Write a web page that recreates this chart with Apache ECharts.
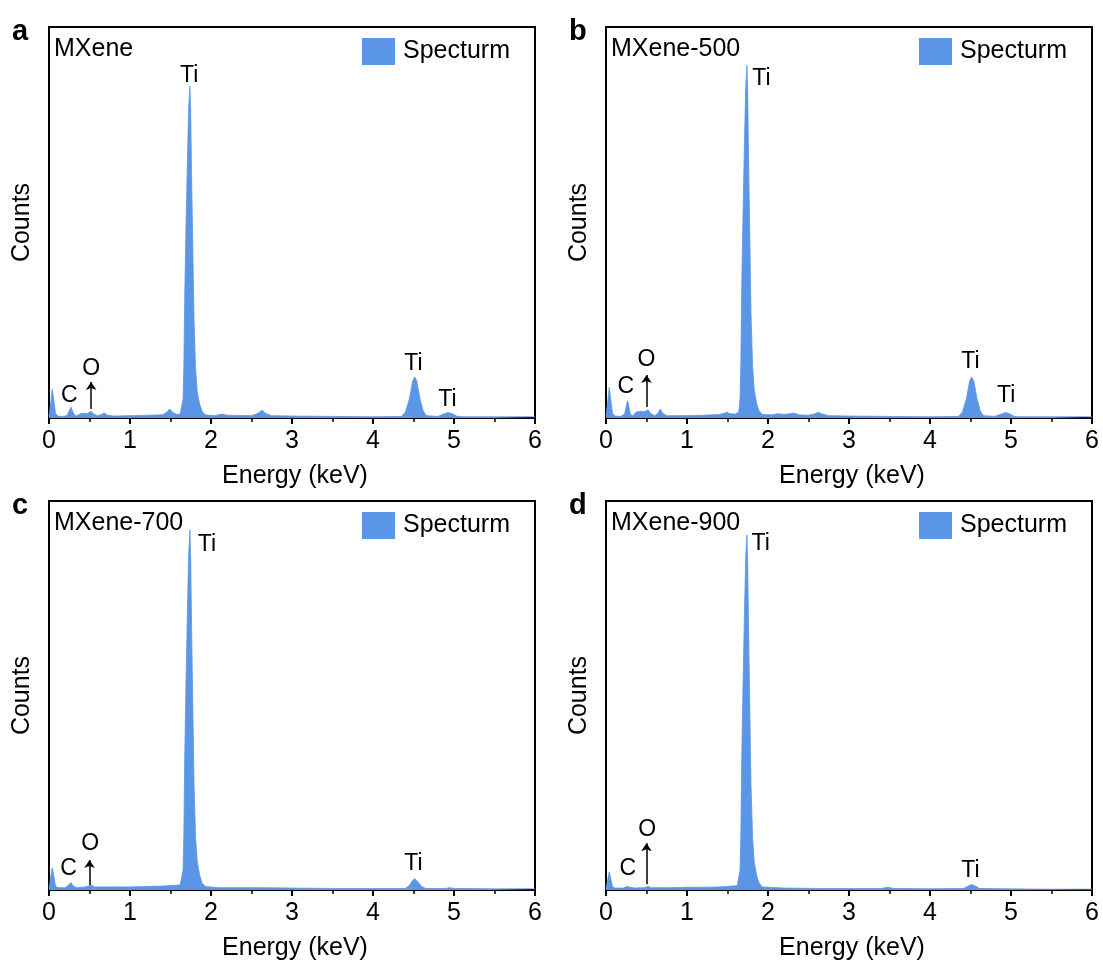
<!DOCTYPE html>
<html>
<head>
<meta charset="utf-8">
<script src="https://cdn.jsdelivr.net/npm/echarts@6/dist/echarts.min.js"></script>
<style>
  html, body { margin: 0; padding: 0; background: #fff; }
  #chart { width: 1103px; height: 965px; }
</style>
</head>
<body>
<div id="chart"></div>
<script>
// ---------------- DATA ----------------
const panelLetters = ['a', 'b', 'c', 'd'];
const sampleNames = ['MXene', 'MXene-500', 'MXene-700', 'MXene-900'];
const seriesName = 'Specturm';
const xLabel = 'Energy (keV)';
const yLabel = 'Counts';

// [energy (keV), counts (% of axis)]
const spectrumMXene = [
  [0,0.5],[0.02,3.5],[0.04,7.4],[0.06,4.5],[0.08,1.2],[0.11,0.5],[0.17,0.4],[0.22,0.6],[0.25,1.8],[0.27,2.8],
  [0.29,1.8],[0.32,0.6],[0.35,0.6],[0.38,1.0],[0.43,1.2],[0.47,1.1],[0.52,1.7],[0.55,1.0],[0.6,0.6],[0.65,0.9],
  [0.68,1.3],[0.72,0.7],[0.8,0.5],[1.0,0.6],[1.2,0.7],[1.4,0.8],[1.45,1.4],[1.49,2.3],[1.53,1.4],[1.58,0.9],
  [1.62,1.0],[1.64,1.5],[1.655,4.8],[1.665,13.5],[1.675,30.5],[1.69,47.5],[1.71,67.0],[1.725,79.5],[1.74,84.8],
  [1.75,77.0],[1.76,62.5],[1.775,44.0],[1.79,25.5],[1.81,12.5],[1.83,6.8],[1.86,3.5],[1.89,1.7],[1.93,0.8],
  [2.05,0.6],[2.13,1.0],[2.2,0.7],[2.5,0.6],[2.58,1.2],[2.63,2.0],[2.68,1.1],[2.75,0.6],[3.0,0.5],[3.5,0.4],
  [4.0,0.3],[4.35,0.4],[4.4,1.5],[4.45,5],[4.49,9.5],[4.515,10.5],[4.54,9.5],[4.58,5],[4.62,1.8],[4.66,0.6],
  [4.8,0.4],[4.87,1.0],[4.93,1.4],[4.98,1.1],[5.03,0.5],[5.1,0.3],[5.5,0.3],[6,0.3]
];
const spectrumMXene500 = [
  [0,0.5],[0.02,4],[0.04,7.8],[0.06,4.5],[0.08,1.2],[0.11,0.5],[0.18,0.4],[0.23,1.0],[0.25,3],[0.265,4.4],
  [0.28,3.2],[0.3,1.0],[0.33,0.5],[0.37,1.5],[0.42,1.7],[0.47,1.6],[0.52,2.1],[0.55,1.2],[0.6,0.6],[0.64,1.2],
  [0.67,2.3],[0.7,1.2],[0.75,0.6],[0.9,0.6],[1.2,0.7],[1.4,0.9],[1.46,1.2],[1.49,1.5],[1.53,1.1],[1.6,1.0],
  [1.64,1.6],[1.655,5.0],[1.665,14.2],[1.675,32.5],[1.69,50.5],[1.71,71.2],[1.725,84.5],[1.74,90.2],
  [1.75,82.0],[1.76,66.5],[1.775,46.8],[1.79,27.0],[1.81,13.2],[1.83,7.2],[1.86,3.7],[1.89,1.8],[1.93,0.9],
  [2.05,0.8],[2.12,1.1],[2.2,0.9],[2.27,1.1],[2.32,1.3],[2.38,0.8],[2.5,0.7],[2.57,1.0],[2.62,1.5],[2.67,1.0],
  [2.75,0.6],[3.0,0.5],[3.5,0.4],[4.0,0.3],[4.35,0.4],[4.4,1.5],[4.45,5],[4.49,9.5],[4.515,10.5],[4.54,9.5],
  [4.58,5],[4.62,1.8],[4.66,0.6],[4.8,0.4],[4.88,1.0],[4.94,1.4],[4.99,1.0],[5.04,0.4],[5.1,0.3],[5.5,0.3],[6,0.3]
];
const spectrumMXene700 = [
  [0,0.5],[0.02,3],[0.04,5.7],[0.06,3.5],[0.08,1.0],[0.11,0.6],[0.2,0.6],[0.24,1.2],[0.27,1.9],[0.3,1.0],
  [0.34,0.6],[0.45,0.8],[0.52,1.3],[0.56,0.8],[0.8,0.8],[1.0,0.8],[1.2,0.9],[1.4,1.0],[1.55,1.2],[1.62,1.3],
  [1.64,1.8],[1.655,5.2],[1.665,14.6],[1.675,33.3],[1.69,51.8],[1.71,73.0],[1.725,86.6],[1.74,92.5],
  [1.75,84.0],[1.76,68.2],[1.775,48.0],[1.79,27.6],[1.81,13.5],[1.83,7.4],[1.86,3.8],[1.89,1.8],[1.93,0.9],
  [2.1,0.6],[2.6,0.6],[3.0,0.5],[3.5,0.4],[4.0,0.4],[4.4,0.4],[4.45,1.2],[4.49,2.5],[4.515,2.9],[4.55,2.2],
  [4.6,0.9],[4.65,0.4],[4.9,0.4],[4.95,0.6],[5.0,0.4],[5.5,0.3],[6,0.3]
];
const spectrumMXene900 = [
  [0,0.4],[0.02,2.5],[0.04,4.6],[0.06,2.8],[0.08,0.9],[0.11,0.5],[0.22,0.5],[0.25,0.9],[0.27,1.3],[0.3,0.7],
  [0.35,0.5],[0.47,0.6],[0.52,0.9],[0.56,0.6],[0.8,0.6],[1.0,0.7],[1.2,0.7],[1.4,0.8],[1.55,1.0],[1.62,1.1],
  [1.64,1.5],[1.655,5.1],[1.665,14.4],[1.675,32.8],[1.69,51.1],[1.71,72.0],[1.725,85.4],[1.74,91.2],
  [1.75,82.9],[1.76,67.3],[1.775,47.3],[1.79,27.2],[1.81,13.3],[1.83,7.3],[1.86,3.7],[1.89,1.8],[1.93,0.8],
  [2.2,0.5],[2.6,0.4],[3.0,0.4],[3.4,0.4],[3.48,0.7],[3.55,0.4],[4.0,0.3],[4.42,0.4],[4.47,1.0],[4.515,1.4],
  [4.56,1.0],[4.61,0.4],[4.95,0.3],[5.5,0.2],[6,0.2]
];

// peak labels: [text, energy, counts]
const peakLabelsMXene    = [['Ti',1.73,87.6],['C',0.25,5.6],['O',0.52,12.6],['Ti',4.5,14.0],['Ti',4.92,4.6]];
const peakLabelsMXene500 = [['Ti',1.92,86.8],['C',0.245,8.0],['O',0.50,14.8],['Ti',4.5,14.3],['Ti',4.94,5.6]];
const peakLabelsMXene700 = [['Ti',1.95,88.8],['C',0.24,5.5],['O',0.51,11.9],['Ti',4.5,6.9]];
const peakLabelsMXene900 = [['Ti',1.91,89.0],['C',0.27,5.6],['O',0.51,15.5],['Ti',4.5,4.9]];

// O arrows: [energy, counts start, counts end]
const arrowMXene    = [0.52, 2.3, 9.2];
const arrowMXene500 = [0.50, 2.8, 11.0];
const arrowMXene700 = [0.50, 1.3, 7.7];
const arrowMXene900 = [0.50, 1.5, 12.0];

const xMin = 0, xMax = 6, xStep = 1;
const yMin = 0, yMax = 100;

// ---------------- LAYOUT / STYLE ----------------
const spectra = [spectrumMXene, spectrumMXene500, spectrumMXene700, spectrumMXene900];
const labels = [peakLabelsMXene, peakLabelsMXene500, peakLabelsMXene700, peakLabelsMXene900];
const arrows = [arrowMXene, arrowMXene500, arrowMXene700, arrowMXene900];

const FONT = "'Liberation Sans', Arial, Helvetica, sans-serif";
const FILL = '#5b96e6';
const grids = [
  {left: 49,  top: 27,  width: 486, height: 391},
  {left: 606, top: 27,  width: 486, height: 391},
  {left: 49,  top: 501, width: 486, height: 389},
  {left: 606, top: 501, width: 486, height: 389}
];

const option = {
  animation: false,
  backgroundColor: '#fff',
  textStyle: {fontFamily: FONT},
  grid: grids.map(g => Object.assign({show: true, borderColor: '#000', borderWidth: 2, backgroundColor: 'transparent'}, g)),
  title: [],
  legend: [],
  xAxis: [],
  yAxis: [],
  series: []
};

grids.forEach((g, i) => {
  option.title.push({
    text: panelLetters[i], left: g.left - 37, top: g.top - 10, padding: 0,
    textStyle: {fontFamily: FONT, fontSize: 29, fontWeight: 'bold', color: '#000'}
  });
  option.title.push({
    text: sampleNames[i], left: g.left + 5, top: g.top + 10, padding: 0,
    textStyle: {fontFamily: FONT, fontSize: 25, fontWeight: 'normal', color: '#000'}
  });
  option.legend.push({
    data: [seriesName], left: g.left + 313, top: g.top + 11, padding: 0,
    icon: 'rect', itemWidth: 33, itemHeight: 27, selectedMode: false,
    itemStyle: {color: FILL},
    textStyle: {fontFamily: FONT, fontSize: 25, color: '#000', padding: [0, 0, 0, 3]}
  });
  option.xAxis.push({
    type: 'value', gridIndex: i, min: xMin, max: xMax, interval: xStep,
    name: xLabel, nameLocation: 'middle', nameGap: 46,
    nameTextStyle: {fontFamily: FONT, fontSize: 25, color: '#000', padding: [0, 0, 0, 6]},
    axisLine: {show: true, lineStyle: {color: '#000', width: 2}},
    axisTick: {show: true, inside: false, length: 6, lineStyle: {color: '#000', width: 2}},
    minorTick: {show: true, splitNumber: 2, length: 4, lineStyle: {color: '#000', width: 1.5}},
    axisLabel: {fontFamily: FONT, fontSize: 25, color: '#000', margin: 11},
    splitLine: {show: false}, minorSplitLine: {show: false}
  });
  option.yAxis.push({
    type: 'value', gridIndex: i, min: yMin, max: yMax,
    name: yLabel, nameLocation: 'middle', nameGap: 14,
    nameTextStyle: {fontFamily: FONT, fontSize: 25, color: '#000'},
    axisLine: {show: true, lineStyle: {color: '#000', width: 2}},
    axisTick: {show: false}, axisLabel: {show: false},
    splitLine: {show: false}
  });
  option.series.push({
    name: seriesName, type: 'line', xAxisIndex: i, yAxisIndex: i,
    data: spectra[i], showSymbol: false, symbol: 'none', smooth: false,
    color: FILL, itemStyle: {color: FILL},
    lineStyle: {color: FILL, width: 0.8},
    areaStyle: {color: FILL, opacity: 1},
    silent: true, z: 2
  });
  const a = arrows[i];
  option.series.push({
    name: 'labels' + i, type: 'scatter', xAxisIndex: i, yAxisIndex: i,
    symbolSize: 1, itemStyle: {color: 'rgba(0,0,0,0)'}, silent: true, z: 5,
    data: labels[i].map(l => ({name: l[0], value: [l[1], l[2]]})),
    label: {show: true, position: 'inside', formatter: '{b}', fontFamily: FONT, fontSize: 23, color: '#000', opacity: 1},
    markLine: {
      silent: true, animation: false, symbol: ['none', 'arrow'], symbolSize: 8,
      lineStyle: {color: '#000', width: 1.5, type: 'solid'},
      label: {show: false},
      data: [[{coord: [a[0], a[1]]}, {coord: [a[0], a[2]]}]]
    }
  });
});

const chart = echarts.init(document.getElementById('chart'), null, {renderer: 'canvas'});
chart.setOption(option);
</script>
</body>
</html>
